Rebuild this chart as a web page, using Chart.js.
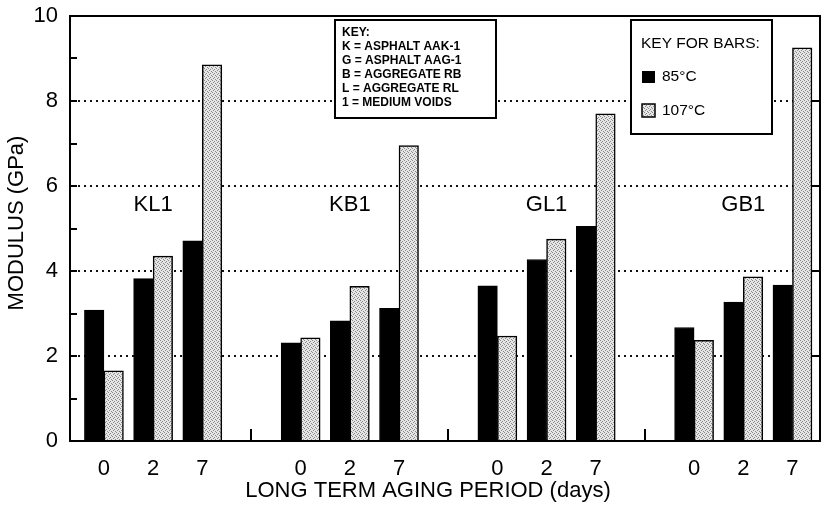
<!DOCTYPE html>
<html>
<head>
<meta charset="utf-8">
<script src="https://cdn.jsdelivr.net/npm/chart.js@4.4.0/dist/chart.umd.min.js"></script>
<style>
  html, body { margin: 0; padding: 0; background: #fff; }
</style>
</head>
<body>
<canvas id="chart" width="821" height="512"></canvas>
<script>
// x slots: 4 per sample group, the 4th one left empty as a spacer
const SLOTS      = [0, 1, 2, 4, 5, 6, 8, 9, 10, 12, 13, 14];
const DAY_LABELS = ['0', '2', '7', '', '0', '2', '7', '', '0', '2', '7', '', '0', '2', '7'];
const GAP_SLOTS  = [3, 7, 11];
const GROUPS     = ['KL1', 'KB1', 'GL1', 'GB1'];
const GROUP_SLOT = [1, 5, 9, 13];

// modulus (GPa)
const MOD_85  = [3.08, 3.82, 4.71,  2.31, 2.83, 3.12,  3.65, 4.27, 5.05,  2.67, 3.27, 3.67];
const MOD_107 = [1.65, 4.35, 8.85,  2.43, 3.64, 6.95,  2.47, 4.75, 7.70,  2.37, 3.86, 9.25];

const GRID_VALUES = [2, 4, 6, 8];
const KEY_LINES = [
  'KEY:',
  'K = ASPHALT AAK-1',
  'G = ASPHALT AAG-1',
  'B = AGGREGATE RB',
  'L = AGGREGATE RL',
  '1 = MEDIUM VOIDS'
];

const FONT = 'Arial, "Liberation Sans", Helvetica, sans-serif';
const canvas = document.getElementById('chart');
const ctx0 = canvas.getContext('2d');

// light stipple like the scanned grey bars
function stipple() {
  const c = document.createElement('canvas');
  c.width = 4; c.height = 4;
  const g = c.getContext('2d');
  g.fillStyle = '#e6e6e6';
  g.fillRect(0, 0, 4, 4);
  g.fillStyle = '#8a8a8a';
  [[0, 0], [2, 1], [1, 2], [3, 3]].forEach(([x, y]) => g.fillRect(x, y, 1, 1));
  return ctx0.createPattern(c, 'repeat');
}
const GREY = stipple();

const decor = {
  id: 'decor',
  beforeDatasetsDraw(chart) {
    const { ctx, chartArea: a, scales: { y } } = chart;
    ctx.save();
    ctx.strokeStyle = '#111';
    ctx.lineWidth = 2;
    ctx.setLineDash([2, 4]);
    GRID_VALUES.forEach(v => {
      const py = Math.round(y.getPixelForValue(v));
      ctx.beginPath();
      ctx.moveTo(a.left + 8, py);
      ctx.lineTo(a.right - 8, py);
      ctx.stroke();
    });
    ctx.restore();
  },
  afterDatasetsDraw(chart) {
    const { ctx, chartArea: a, scales: { x, y } } = chart;
    ctx.save();
    ctx.strokeStyle = '#000';
    ctx.fillStyle = '#000';
    ctx.lineWidth = 2;

    // frame
    ctx.strokeRect(a.left, a.top, a.right - a.left, a.bottom - a.top);

    // inward ticks
    ctx.beginPath();
    for (let v = 1; v < 10; v++) {
      const py = Math.round(y.getPixelForValue(v));
      ctx.moveTo(a.left, py); ctx.lineTo(a.left + 7, py);
    }
    GRID_VALUES.forEach(v => {
      const py = Math.round(y.getPixelForValue(v));
      ctx.moveTo(a.right, py); ctx.lineTo(a.right - 8, py);
    });
    GAP_SLOTS.forEach(s => {
      const px = Math.round(x.getPixelForValue(s));
      ctx.moveTo(px, a.bottom); ctx.lineTo(px, a.bottom - 12);
    });
    ctx.stroke();

    // group names
    ctx.font = '22px ' + FONT;
    ctx.textAlign = 'center';
    ctx.textBaseline = 'middle';
    GROUPS.forEach((g, i) => {
      ctx.fillText(g, x.getPixelForValue(GROUP_SLOT[i]), y.getPixelForValue(5.55));
    });

    // axis titles
    ctx.fillText('LONG TERM AGING PERIOD (days)', 428, 491);
    ctx.save();
    ctx.translate(17, 223);
    ctx.rotate(-Math.PI / 2);
    ctx.fillText('MODULUS (GPa)', 0, 0);
    ctx.restore();

    // sample key
    ctx.fillStyle = '#fff';
    ctx.fillRect(335, 20, 161, 98);
    ctx.strokeRect(335, 20, 161, 98);
    ctx.fillStyle = '#000';
    ctx.textAlign = 'left';
    ctx.font = 'bold 12px ' + FONT;
    KEY_LINES.forEach((t, i) => ctx.fillText(t, 342, 33 + i * 14));

    // bar key
    ctx.fillStyle = '#fff';
    ctx.fillRect(631, 20, 141, 114);
    ctx.strokeRect(631, 20, 141, 114);
    ctx.fillStyle = '#000';
    ctx.font = '15.5px ' + FONT;
    ctx.fillText('KEY FOR BARS:', 641, 44);
    const ds = chart.data.datasets;
    ctx.fillRect(642, 71, 13, 12);
    ctx.fillText(ds[0].label, 662, 77);
    ctx.fillStyle = GREY;
    ctx.fillRect(642, 104, 13, 13);
    ctx.lineWidth = 1.5;
    ctx.strokeRect(642, 104, 13, 13);
    ctx.fillStyle = '#000';
    ctx.fillText(ds[1].label, 662, 111);
    ctx.restore();
  }
};

new Chart(canvas, {
  type: 'bar',
  data: {
    datasets: [
      {
        label: '85°C',
        data: SLOTS.map((s, i) => ({ x: s, y: MOD_85[i] })),
        backgroundColor: '#000',
        borderColor: '#000',
        borderWidth: 1,
        barThickness: 19.5
      },
      {
        label: '107°C',
        data: SLOTS.map((s, i) => ({ x: s, y: MOD_107[i] })),
        backgroundColor: GREY,
        borderColor: '#000',
        borderWidth: 1.5,
        barThickness: 19.5
      }
    ]
  },
  options: {
    responsive: false,
    animation: false,
    layout: { padding: { top: 16, right: 1, left: 0, bottom: 0 } },
    plugins: { legend: { display: false }, tooltip: { enabled: false } },
    scales: {
      x: {
        type: 'linear',
        min: -0.69,
        max: 14.56,
        offset: false,
        grid: { display: false, drawTicks: false },
        border: { display: false },
        ticks: {
          stepSize: 1,
          includeBounds: false,
          autoSkip: false,
          maxRotation: 0,
          padding: 15,
          color: '#000',
          font: { family: FONT, size: 22 },
          callback: v => DAY_LABELS[v] ?? ''
        },
        afterFit: s => { s.height = 71; s.paddingLeft = 0; s.paddingRight = 0; }
      },
      y: {
        min: 0,
        max: 10,
        grid: { display: false, drawTicks: false },
        border: { display: false },
        ticks: {
          stepSize: 1,
          padding: 12,
          color: '#000',
          font: { family: FONT, size: 22 },
          callback: v => (v % 2 === 0 ? String(v) : '')
        },
        afterFit: s => { s.width = 70; s.paddingTop = 0; s.paddingBottom = 0; }
      }
    }
  },
  plugins: [decor]
});
</script>
</body>
</html>
